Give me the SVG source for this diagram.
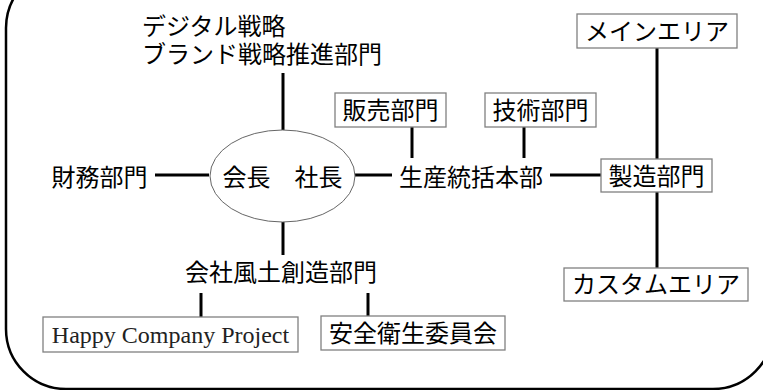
<svg xmlns="http://www.w3.org/2000/svg" width="763" height="390" viewBox="0 0 763 390">
<style>
  .t{font-family:"Noto Sans CJK JP","Noto Sans",sans-serif;font-size:24px;fill:#000;text-anchor:middle}
  .s{font-family:"Liberation Serif","Times New Roman",serif;font-size:24px;fill:#222;text-anchor:middle}
  .box{fill:#fff;stroke:#808080;stroke-width:1.3}
  .ln{stroke:#000;stroke-width:3;fill:none}
</style>
<rect width="763" height="390" fill="#fff"/>
<rect id="frame" x="6" y="-32" width="767" height="421" rx="60" ry="60" fill="none" stroke="#000" stroke-width="2.5"/>
<g id="connectors">
  <line class="ln" x1="283" y1="73" x2="283" y2="130"/>
  <line class="ln" x1="155" y1="175" x2="209" y2="175"/>
  <line class="ln" x1="355" y1="175" x2="392" y2="175"/>
  <line class="ln" x1="550" y1="175" x2="601" y2="175"/>
  <line class="ln" x1="412" y1="127" x2="412" y2="158"/>
  <line class="ln" x1="524" y1="127" x2="524" y2="158"/>
  <line class="ln" x1="657" y1="48" x2="657" y2="159"/>
  <line class="ln" x1="657" y1="192" x2="657" y2="268"/>
  <line class="ln" x1="283" y1="222" x2="283" y2="255"/>
  <line class="ln" x1="201" y1="293" x2="201" y2="317"/>
  <line class="ln" x1="368" y1="293" x2="368" y2="316"/>
</g>
<g id="digital">
  <text class="t" x="142" y="35" style="text-anchor:start">デジタル戦略</text>
  <text class="t" x="142" y="63" style="text-anchor:start">ブランド戦略推進部門</text>
</g>
<g id="top">
  <ellipse cx="282.5" cy="176" rx="72.5" ry="46" fill="#fff" stroke="#666" stroke-width="1"/>
  <text class="t" x="282.5" y="185.5">会長　社長</text>
</g>
<g id="finance">
  <text class="t" x="99.5" y="185.5">財務部門</text>
</g>
<g id="production">
  <text class="t" x="471" y="185.5">生産統括本部</text>
</g>
<g id="sales">
  <rect class="box" x="335" y="93" width="111" height="34"/>
  <text class="t" x="390.5" y="118.5">販売部門</text>
</g>
<g id="tech">
  <rect class="box" x="485" y="93" width="111" height="34"/>
  <text class="t" x="540.5" y="118.5">技術部門</text>
</g>
<g id="manufacturing">
  <rect class="box" x="601" y="159" width="111" height="33"/>
  <text class="t" x="656.5" y="184.5">製造部門</text>
</g>
<g id="main-area">
  <rect class="box" x="577" y="14" width="160" height="34"/>
  <text class="t" x="657" y="39.5">メインエリア</text>
</g>
<g id="custom-area">
  <rect class="box" x="564" y="268" width="184" height="33"/>
  <text class="t" x="656" y="293">カスタムエリア</text>
</g>
<g id="culture">
  <text class="t" x="281" y="281">会社風土創造部門</text>
</g>
<g id="happy">
  <rect class="box" x="43" y="317" width="255" height="35"/>
  <text class="s" x="170.5" y="343">Happy Company Project</text>
</g>
<g id="safety">
  <rect class="box" x="321" y="316" width="184" height="34"/>
  <text class="t" x="413" y="341.5">安全衛生委員会</text>
</g>
</svg>
